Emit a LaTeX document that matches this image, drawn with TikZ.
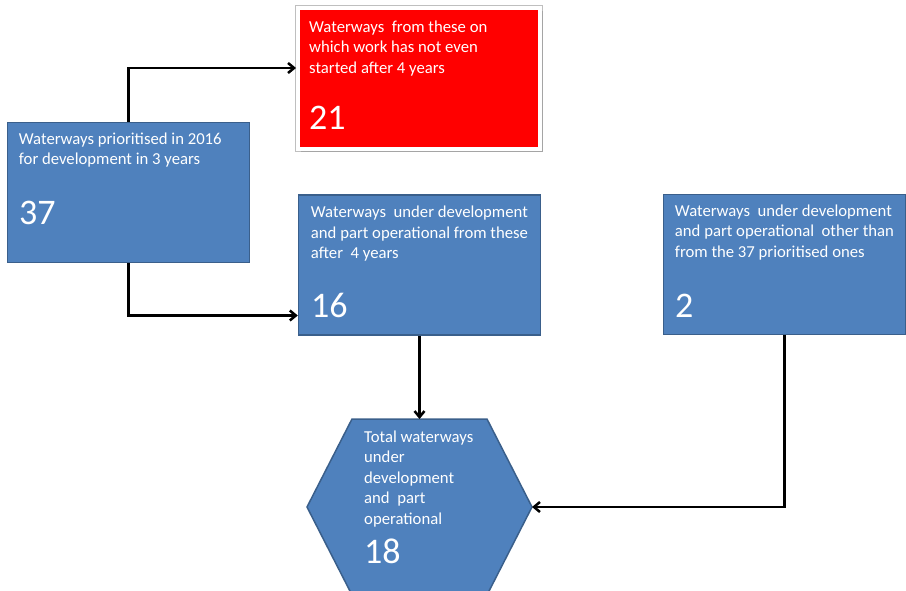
\documentclass[tikz,border=0pt]{standalone}
\usepackage{fontspec}
\setmainfont{Carlito}
\usepackage{tikz}
\usetikzlibrary{positioning,calc}
\usetikzlibrary{arrows.meta,shadows}
\definecolor{bleu}{HTML}{4F81BD}
\definecolor{bleufonce}{HTML}{3A5F8B}
\tikzset{
	box/.style={draw=bleufonce,fill=bleu,line width=1.5pt,minimum width=242pt,minimum height=140pt,inner sep=0pt},
	redbox/.style={draw=white,fill=red,line width=4pt,minimum width=242pt,minimum height=141pt,inner sep=0pt,
		preaction={draw=black!25,line width=5.6pt},
		drop shadow={shadow xshift=2.5pt,shadow yshift=-3.5pt,fill=black!45,opacity=0.5}},
	txt/.style={text=white,font=\fontsize{16.7}{20.5}\selectfont,align=left,anchor=north west,inner sep=0pt},
	num/.style={text=white,font=\fontsize{36}{40}\selectfont,anchor=base west,inner sep=0pt},
	arr/.style={line width=2.5pt,-{Straight Barb[length=6pt,width=10pt]}}
}

\begin{document}
\begin{tikzpicture}[x=1pt,y=-1pt]
	\useasboundingbox (0,0) rectangle (906,591);
	\clip (0,0) rectangle (906,591);
	
	%Boxes
	\node[box] (prio) at (128.5,192.5) {};
	\node[redbox] (notstarted) at (419,78.5) {};
	\node[box] (underdev) at (419.5,265) {};
	\node[box] (other) at (784.5,264.5) {};
	
	%Hexagon
	\coordinate (hexT) at (419.5,419);
	\coordinate (hexR) at (532,507);
	\draw[draw=bleufonce,fill=bleu,line width=1.5pt] (352,419) -- (487,419) -- (hexR) -- (487,595) -- (352,595) -- (307,507) -- cycle;
	
	%Texts
	\node[txt] (prioT) at ($(prio.north west)+(12,10.5)$) {Waterways prioritised in 2016\\for development in 3 years};
	\node[num] (prioN) at (19,225) {37};
	
	\node[txt] (notstartedT) at ($(notstarted.north west)+(13,14.5)$) {Waterways~ from these on\\which work has not even\\started after 4 years};
	\node[num] (notstartedN) at (309,130) {21};
	
	\node[txt] (underdevT) at ($(underdev.north west)+(13,11.5)$) {Waterways~ under development\\and part operational from these\\after~ 4 years};
	\node[num] (underdevN) at (311,317) {16};
	
	\node[txt] (otherT) at ($(other.north west)+(12,10.5)$) {Waterways~ under development\\and part operational~ other than\\from the 37 prioritised ones};
	\node[num] (otherN) at (675,317) {2};
	
	\node[txt] (totalT) at ($(hexT)+(-55.5,11.5)$) {Total waterways\\under\\development\\and~ part\\operational};
	\node[num] (totalN) at (364,563) {18};
	
	%Arrows
	\draw[arr] (prio.north) |- ($(notstarted.west)+(0,-10.5)$);
	\draw[arr] (prio.south) |- ($(underdev.west)+(0,50.5)$);
	\draw[arr] (underdev.south) -- (hexT);
	\draw[arr] (other.south) |- (hexR);
	
\end{tikzpicture}
\end{document}
